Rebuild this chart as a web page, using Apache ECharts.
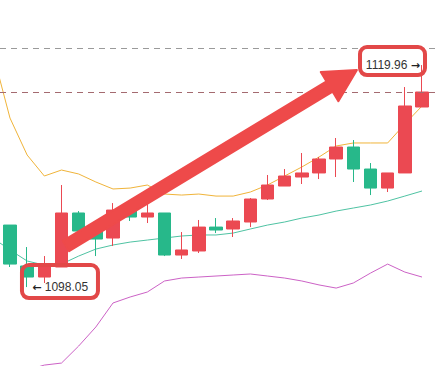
<!DOCTYPE html>
<html>
<head>
<meta charset="utf-8">
<script src="https://cdn.jsdelivr.net/npm/echarts@6/dist/echarts.min.js"></script>
<style>html,body{margin:0;padding:0;background:#fff}#c{width:435px;height:366px}</style>
</head>
<body>
<div id="c"></div>
<script>
// session index of each bar; index -1 is the bar before the visible window (only MA values)
const positions = [-1,0,1,2,3,4,5,6,7,8,9,10,11,12,13,14,15,16,17,18,19,20,21,22,23,24];
// [open, close, low, high]
const candles = [
  ['-','-','-','-'],
  [1104.17,1100.32,1100.03,1104.17],
  [1100.13,1099.04,1098.05,1102.00],
  [1099.04,1100.03,1098.45,1101.11],
  [1100.03,1105.36,1100.03,1108.12],
  [1105.36,1103.58,1103.09,1105.55],
  [1103.68,1102.79,1101.11,1103.88],
  [1102.89,1105.65,1102.10,1106.34],
  [1105.65,1104.96,1104.57,1105.65],
  [1104.96,1105.36,1104.37,1106.54],
  [1105.36,1101.21,1101.11,1105.36],
  [1101.21,1101.71,1100.82,1103.48],
  [1101.61,1103.97,1101.41,1104.67],
  [1103.97,1103.68,1103.38,1104.86],
  [1103.78,1104.57,1102.99,1104.86],
  [1104.47,1106.74,1103.97,1106.84],
  [1106.74,1108.12,1106.64,1109.11],
  [1108.02,1109.01,1108.02,1109.70],
  [1108.91,1109.31,1108.22,1111.28],
  [1109.31,1110.69,1108.71,1110.89],
  [1110.69,1111.87,1108.91,1112.76],
  [1111.87,1109.70,1108.42,1112.56],
  [1109.70,1107.82,1107.13,1110.29],
  [1107.82,1109.31,1107.43,1109.31],
  [1109.31,1115.92,1109.31,1117.79],
  [1115.82,1117.30,1115.82,1119.96]
];
const maYellow = [1121.15,1114.73,1111.08,1109.01,1109.60,1109.21,1108.42,1107.73,1107.82,1108.12,1107.23,1107.13,1107.23,1107.03,1107.03,1107.43,1108.12,1109.01,1109.90,1110.88,1111.97,1112.27,1112.27,1112.27,1114.14,1115.92];
const maTeal   = [1102.89,1101.71,1100.62,1100.22,1100.32,1101.11,1101.80,1102.20,1102.49,1102.69,1102.89,1103.09,1103.19,1103.19,1103.38,1103.78,1104.17,1104.47,1104.86,1105.16,1105.55,1105.85,1106.15,1106.54,1107.03,1107.53];
const maPurple = [1088.87,1089.37,1089.86,1090.35,1090.55,1092.23,1094.11,1096.48,1097.07,1097.56,1098.65,1098.94,1099.04,1099.14,1099.24,1099.34,1099.14,1098.94,1098.65,1098.26,1097.95,1098.45,1099.43,1100.32,1099.53,1099.04];
const priceLines = [1121.64, 1117.30];
const minPoint = {pos: 1, value: 1098.05, num: '1098.05'};
const maxPoint = {pos: 24, value: 1119.96, num: '1119.96'};
const arrowFrom = [3, 1102.10];
const arrowTo = [20, 1119.47];

const RED = '#eb4952', GREEN = '#27b88a';
const candleData = positions.map((p, i) => [p].concat(candles[i]));
const pair = arr => positions.map((p, i) => [p, arr[i]]);

const chart = echarts.init(document.getElementById('c'), null, {renderer: 'svg'});
chart.setOption({
  animation: false,
  backgroundColor: '#fff',
  grid: {left: 0, right: 0, top: 0, bottom: 0, containLabel: false},
  xAxis: {type: 'value', min: -0.5825, max: 24.757, show: false, splitLine: {show: false}},
  yAxis: {type: 'value', min: 1090.26, max: 1126.38, show: false, splitLine: {show: false}},
  series: [
    {type: 'line', data: pair(maPurple), symbol: 'none', lineStyle: {color: '#cc62c6', width: 1}, z: 2},
    {type: 'line', data: pair(maTeal), symbol: 'none', lineStyle: {color: '#4fc3a3', width: 1}, z: 2},
    {type: 'line', data: pair(maYellow), symbol: 'none', lineStyle: {color: '#f0b43a', width: 1}, z: 3},
    {
      type: 'candlestick', data: candleData, encode: {x: 0, y: [1, 2, 3, 4]}, barWidth: 13, z: 4,
      itemStyle: {color: RED, color0: GREEN, borderColor: RED, borderColor0: GREEN, borderWidth: 1},
      markLine: {
        silent: true, symbol: 'none', label: {show: false},
        data: [
          {yAxis: priceLines[0], lineStyle: {color: '#9a9a9a', type: [6, 5], width: 1}},
          {yAxis: priceLines[1], lineStyle: {color: '#a46a70', type: [6, 5], width: 1}}
        ]
      }
    }
  ]
});

function px(pt) { return chart.convertToPixel({gridIndex: 0}, pt); }
function arrowPoints(t, h, sh, hl, hh) {
  const dx = h[0]-t[0], dy = h[1]-t[1], L = Math.hypot(dx, dy);
  const ux = dx/L, uy = dy/L, nx = -uy, ny = ux;
  const bx = h[0]-ux*hl, by = h[1]-uy*hl;
  return [[t[0]+nx*sh, t[1]+ny*sh], [bx+nx*sh, by+ny*sh], [bx+nx*hh, by+ny*hh], [h[0], h[1]],
          [bx-nx*hh, by-ny*hh], [bx-nx*sh, by-ny*sh], [t[0]-nx*sh, t[1]-ny*sh]];
}
const pMin = px([minPoint.pos, minPoint.value]);
const pMax = px([maxPoint.pos, maxPoint.value]);
const a0 = px(arrowFrom), a1 = px(arrowTo);
const tail = [a0[0] + 4.5, a0[1]], tip = [a1[0] + 3.6, a1[1]];
const FONT = '12px "Liberation Sans", Arial, sans-serif';
const RICH = {a: {fontFamily: 'DejaVu Sans', fontSize: 11, fontWeight: 'bold', fill: '#222', color: '#222'}};
chart.setOption({
  graphic: [
    {type: 'polygon', z: 100, shape: {points: arrowPoints(tail, tip, 6, 32, 17)},
     style: {fill: '#ee4a4a', stroke: '#ee4a4a', lineWidth: 2, lineJoin: 'round'}},
    {type: 'rect', z: 101, shape: {x: pMin[0]-5.2, y: pMin[1]-22, width: 76, height: 33, r: 7},
     style: {fill: 'none', stroke: '#e24848', lineWidth: 4}},
    {type: 'text', z: 102, x: pMin[0]+5, y: pMin[1],
     style: {text: '{a|\u2190} ' + minPoint.num, font: FONT, fill: '#333', verticalAlign: 'middle', align: 'left', rich: RICH}},
    {type: 'rect', z: 101, shape: {x: pMax[0]-62, y: pMax[1]-18, width: 65, height: 28, r: 7},
     style: {fill: 'none', stroke: '#e24848', lineWidth: 4}},
    {type: 'text', z: 102, x: pMax[0]-2, y: pMax[1],
     style: {text: maxPoint.num + ' {a|\u2192}', font: FONT, fill: '#333', verticalAlign: 'middle', align: 'right', rich: RICH}}
  ]
});
</script>
</body>
</html>
